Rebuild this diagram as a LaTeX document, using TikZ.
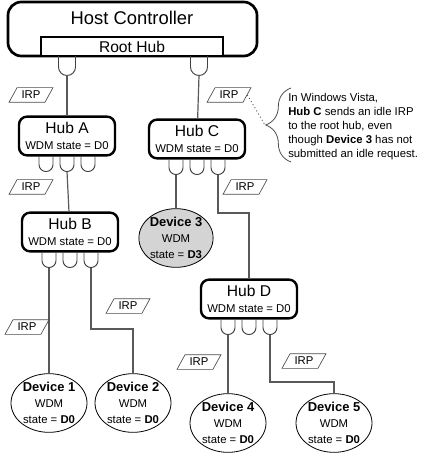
\documentclass[tikz,border=0pt]{standalone}
\usepackage{fontspec}
\setmainfont{Liberation Sans}
\usetikzlibrary{shapes,calc,decorations.pathreplacing}

\newcommand{\hubtxt}[1]{{\fontsize{11.7}{10}\selectfont #1}\\{\fontsize{8.5}{10}\selectfont WDM state = D0}}
\newcommand{\devtxt}[2]{{\fontsize{9.7}{11}\selectfont\bfseries #1}\\{\fontsize{8.5}{11}\selectfont WDM}\\{\fontsize{8.5}{11}\selectfont state = \textbf{#2}}}

\begin{document}
\begin{tikzpicture}[x=0.75pt,y=-0.75pt,
        hub/.style={rectangle,rounded corners=6pt,line width=1.8pt,draw=black,fill=white,minimum width=72pt,minimum height=29pt,inner sep=0pt,align=center},
        dev/.style={ellipse,draw=black,line width=0.6pt,minimum width=57pt,minimum height=44pt,inner sep=0pt,align=center},
        irp/.style={trapezium,trapezium left angle=55,trapezium right angle=125,trapezium stretches=true,draw=black!70,line width=0.5pt,minimum width=33pt,minimum height=11pt,inner sep=0pt,font=\fontsize{8.5}{10}\selectfont},
        wire/.style={draw=black!65,line width=0.9pt},
        portline/.style={draw=black!75,line width=0.7pt},
        port/.pic={\draw[portline] (-7,0) -- (-7,8) arc[start angle=180,end angle=0,radius=7] -- (7,0);},
        rport/.pic={\draw[portline] (-8.5,0) -- (-8.5,11) arc[start angle=180,end angle=0,radius=8.5] -- (8.5,0);}]
        \useasboundingbox (0,0) rectangle (427,459);
        % host controller and root hub
        \node[rectangle,rounded corners=10pt,line width=2pt,draw=black,minimum width=186.75pt,minimum height=40.5pt] (host) at (132.5,29) {};
        \node[font=\fontsize{13.8}{16}\selectfont] (hosttxt) at (132,18) {Host Controller};
        \node[rectangle,draw=black,line width=0.8pt,fill=white,minimum width=136.5pt,minimum height=14.25pt,inner sep=0pt,font=\fontsize{11.7}{14}\selectfont] (root) at (132,46.5) {Root Hub};
        \pic at (67,56) {rport};  \coordinate (rA) at (67,75.5);
        \pic at (199,56) {rport}; \coordinate (rC) at (199,75.5);
        % hubs
        \node[hub] (hubA) at (67,136)  {\hubtxt{Hub A}};
        \node[hub] (hubC) at (197,139) {\hubtxt{Hub C}};
        \node[hub] (hubB) at (70,232)  {\hubtxt{Hub B}};
        \node[hub] (hubD) at (249,299) {\hubtxt{Hub D}};
        \foreach \h in {hubA,hubB,hubC,hubD} {
          \foreach \i/\dx in {1/-21,2/0,3/21} {
            \pic at ($(\h.south)+(\dx,0)$) {port};
            \coordinate (\h\i) at ($(\h.south)+(\dx,15)$);
          }
        }
        % devices
        \node[dev] (d1) at (49,403)  {\devtxt{Device 1}{D0}};
        \node[dev] (d2) at (133,403) {\devtxt{Device 2}{D0}};
        \node[dev,fill=black!17,minimum width=48pt,minimum height=43pt] (d3) at (176,238) {\devtxt{Device 3}{D3}};
        \node[dev] (d4) at (228,423) {\devtxt{Device 4}{D0}};
        \node[dev] (d5) at (334,423) {\devtxt{Device 5}{D0}};
        % bends
        \coordinate (bB) at (133,329);
        \coordinate (bC) at (249,213);
        \coordinate (bD) at (334,382);
        \path[wire]
          (rA) edge (hubA)
          (rC) edge (hubC)
          (hubA2) edge (hubB)
          (hubB1) edge (d1)
          (hubC1) edge (d3)
          (hubD1) edge (d4);
        \draw[wire] (hubB3) |- (bB) -- (d2);
        \draw[wire] (hubC3) |- (bC) -- (hubD);
        \draw[wire] (hubD3) |- (bD) -- (d5);
        % IRPs
        \node[irp] (irpA) at (31,95)   {IRP};
        \node[irp] (irpC) at (229,95)  {IRP};
        \node[irp] (irpB) at (31,187)  {IRP};
        \node[irp] (irpD) at (245,187) {IRP};
        \node[irp] (irp1) at (27,327)  {IRP};
        \node[irp] (irp2) at (128,306) {IRP};
        \node[irp] (irp4) at (199,362) {IRP};
        \node[irp] (irp5) at (304,361) {IRP};
        % note
        \draw[black!70,line width=0.6pt,decorate,decoration={brace,amplitude=19pt}] (291,162) -- (291,88);
        \coordinate (tip) at (265,125);
        \draw[black!70,dotted,line width=0.7pt] (irpC.east) -- (tip);
        \node[anchor=north west,align=left,inner sep=0pt,font=\fontsize{8.5}{10.5}\selectfont] (note) at (288,93)
          {In Windows Vista,\\\textbf{Hub C} sends an idle IRP\\to the root hub, even\\though \textbf{Device 3} has not\\submitted an idle request.};
      \end{tikzpicture}
\end{document}
